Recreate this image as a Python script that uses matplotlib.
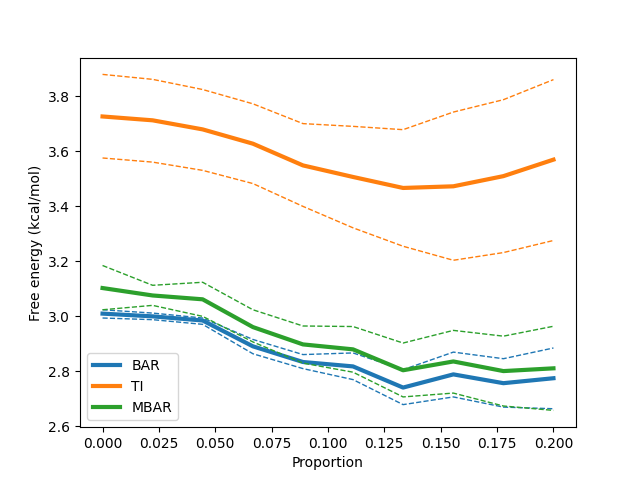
import numpy as np
import matplotlib.pyplot as plt

proportion = [0.0, 0.0222, 0.0444, 0.0667, 0.0889, 0.1111, 0.1333, 0.1556, 0.1778, 0.2]

bar = [3.010, 3.000, 2.985, 2.891, 2.834, 2.818, 2.741, 2.789, 2.757, 2.775]
bar_hi = [3.024, 3.012, 2.994, 2.916, 2.861, 2.867, 2.806, 2.870, 2.846, 2.885]
bar_lo = [2.994, 2.988, 2.971, 2.864, 2.810, 2.770, 2.679, 2.707, 2.670, 2.664]

ti = [3.727, 3.713, 3.680, 3.628, 3.549, 3.507, 3.467, 3.473, 3.510, 3.570]
ti_hi = [3.880, 3.862, 3.825, 3.773, 3.701, 3.691, 3.679, 3.743, 3.788, 3.861]
ti_lo = [3.576, 3.561, 3.531, 3.483, 3.400, 3.322, 3.255, 3.204, 3.232, 3.276]

mbar = [3.103, 3.076, 3.062, 2.961, 2.898, 2.880, 2.804, 2.836, 2.801, 2.811]
mbar_hi = [3.185, 3.113, 3.124, 3.024, 2.965, 2.963, 2.903, 2.949, 2.928, 2.964]
mbar_lo = [3.024, 3.040, 3.000, 2.907, 2.830, 2.797, 2.707, 2.721, 2.674, 2.658]

fig, ax = plt.subplots(figsize=(6.4, 4.8), dpi=100)

series = [('BAR', bar, bar_hi, bar_lo, 'C0'),
          ('TI', ti, ti_hi, ti_lo, 'C1'),
          ('MBAR', mbar, mbar_hi, mbar_lo, 'C2')]
for name, mid, hi, lo, c in series:
    ax.plot(proportion, mid, color=c, lw=3, label=name)
    ax.plot(proportion, hi, color=c, lw=1, ls='--')
    ax.plot(proportion, lo, color=c, lw=1, ls='--')

ax.set_xlabel('Proportion')
ax.set_ylabel('Free energy (kcal/mol)')
ax.legend(loc='lower left')
fig.savefig('out.png')
